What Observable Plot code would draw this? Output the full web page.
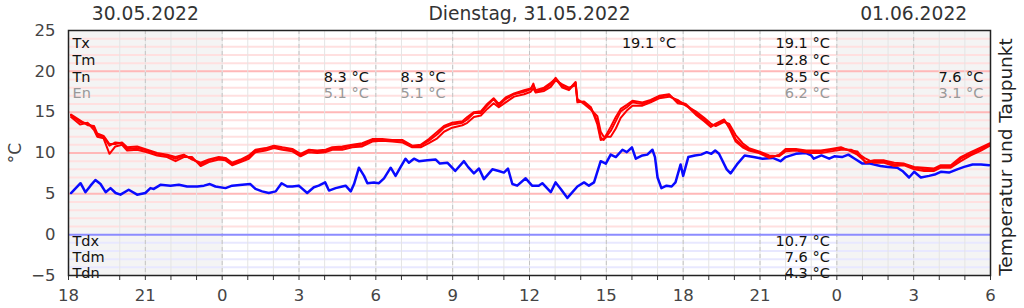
<!DOCTYPE html>
<html><head><meta charset="utf-8">
<script src="https://cdn.jsdelivr.net/npm/d3@7"></script>
<script src="https://cdn.jsdelivr.net/npm/@observablehq/plot@0.6"></script>
<style>body{margin:0;background:#fff;} svg{display:block;}</style>
</head><body><div id="chart"></div>
<script>
// ---- data (hours counted from 30.05.2022 18:00) ----
const redHours = [
 0.1,0.45,0.75,1.0,1.12,1.37,1.6,1.83,2.09,2.29,
 2.68,3.07,3.46,3.85,4.18,4.5,4.83,5.16,5.48,5.87,
 6.13,6.39,6.72,7.04,7.3,7.7,8.02,8.35,8.74,9.06,
 9.39,9.71,10.04,10.3,10.69,11.08,11.47,11.86,12.25,12.64,
 13.03,13.42,13.75,14.07,14.4,14.66,14.98,15.38,15.57,15.83,
 16.1,16.35,16.6,16.8,17.07,17.4,17.79,18.05,18.15,18.24,
 18.57,18.83,19.02,19.28,19.54,19.8,19.87,20.13,20.4,20.65,
 20.78,20.9,21.17,21.37,21.56,21.8,22.02,22.41,22.73,23.06,
 23.45,23.78,24.1,24.49,24.82,25.08,25.27,25.6,25.79,26.05,
 26.32,26.57,26.96,27.36,27.75,28.0,28.4,28.8,29.0,29.38,
 29.77,30.16,30.55,30.8,31.13,31.46,31.85,32.24,32.63,33.02,
 33.41,33.8,34.06,34.45,34.84,35.23,35.63,35.98];
const tempA = [
 14.6,13.8,13.6,13.1,12.2,12.0,10.9,11.3,11.2,10.5,
 10.6,10.3,9.9,9.7,9.3,9.7,9.3,8.6,9.1,9.4,
 9.3,8.6,9.1,9.5,10.3,10.5,10.8,10.5,10.4,9.7,
 10.3,10.2,10.2,10.6,10.6,10.9,11.0,11.6,11.6,11.5,
 11.5,10.8,10.9,11.5,12.3,13.1,13.5,13.7,14.1,14.9,
 14.9,15.8,16.6,15.8,16.6,17.2,17.5,17.8,18.5,17.5,
 17.8,18.4,19.2,18.2,17.8,18.7,16.4,16.2,15.5,13.9,
 11.9,11.6,12.7,13.9,15.1,15.6,16.2,16.0,16.4,16.9,
 17.1,16.3,16.0,14.9,14.1,13.3,13.5,14.0,13.3,11.7,
 10.9,10.4,10.1,9.5,9.7,10.4,10.4,10.2,10.1,10.2,
 10.4,10.6,10.3,10.2,8.8,9.0,9.0,8.6,8.6,8.2,
 8.0,8.0,8.4,8.3,9.3,9.9,10.5,11.1];
const tempB = [
 14.4,13.5,13.7,12.8,12.0,11.8,9.9,10.8,11.0,10.3,
 10.4,10.1,9.7,9.5,9.0,9.5,9.5,8.4,8.9,9.2,
 9.1,8.5,8.9,9.3,10.1,10.3,10.6,10.4,10.2,9.6,
 10.1,10.0,10.1,10.4,10.4,10.7,10.8,11.4,11.5,11.4,
 11.3,10.7,10.7,11.2,11.8,12.6,13.1,13.4,13.7,14.4,
 14.6,15.4,16.1,15.6,16.2,16.9,17.2,17.5,17.9,17.4,
 17.6,18.1,18.9,18.4,18.0,18.3,16.6,16.0,15.3,14.5,
 12.6,12.0,12.0,13.0,14.3,15.2,15.8,15.8,16.2,16.7,
 16.9,16.5,15.8,15.1,14.3,13.6,13.3,13.8,13.6,12.2,
 11.2,10.6,10.2,9.7,9.6,10.2,10.3,10.1,10.0,10.0,
 10.2,10.4,10.4,10.0,9.3,8.8,8.8,8.4,8.5,8.0,
 7.8,7.8,8.2,8.2,9.0,9.7,10.3,10.9];
const tempC = [
 14.7,14.0,13.4,13.3,12.4,12.1,11.1,11.1,11.3,10.7,
 10.8,10.4,10.0,9.8,9.5,9.8,9.2,8.8,9.2,9.5,
 9.4,8.8,9.2,9.7,10.4,10.6,10.9,10.7,10.5,9.9,
 10.4,10.3,10.4,10.7,10.8,11.0,11.2,11.7,11.7,11.6,
 11.6,10.9,11.0,11.7,12.6,13.3,13.7,13.9,14.4,15.0,
 15.1,16.0,16.7,16.0,16.8,17.3,17.7,17.9,18.3,17.7,
 18.0,18.6,19.1,18.0,17.7,18.6,16.2,16.3,15.6,13.5,
 11.6,11.7,13.2,14.4,15.4,15.9,16.4,16.2,16.5,17.0,
 17.2,16.1,15.9,14.7,13.9,13.2,13.6,14.1,13.1,11.4,
 10.7,10.3,10.0,9.4,9.8,10.5,10.5,10.3,10.3,10.3,
 10.5,10.7,10.2,9.8,8.9,9.1,9.1,8.8,8.7,8.3,
 8.2,8.1,8.5,8.5,9.5,10.1,10.7,11.2];
const dewHours = [
 0.1,0.47,0.66,0.86,1.05,1.25,1.45,1.64,1.84,2.03,
 2.35,2.68,3.0,3.2,3.33,3.59,3.98,4.31,4.63,5.03,
 5.29,5.52,5.74,6.13,6.39,6.78,7.1,7.3,7.56,7.82,
 8.09,8.32,8.54,8.74,8.99,9.32,9.58,9.77,10.02,10.17,
 10.43,10.69,10.82,11.02,11.15,11.34,11.54,11.67,11.93,12.12,
 12.32,12.58,12.77,12.97,13.16,13.29,13.49,13.68,14.01,14.34,
 14.5,14.8,15.1,15.44,15.6,15.83,16.03,16.22,16.55,16.8,
 17.0,17.16,17.33,17.52,17.85,18.1,18.36,18.5,18.83,19.02,
 19.22,19.48,19.87,20.13,20.32,20.52,20.78,20.98,21.17,21.37,
 21.63,21.8,22.0,22.15,22.41,22.6,22.8,22.9,23.0,23.15,
 23.35,23.55,23.7,23.9,24.0,24.2,24.46,24.7,24.92,25.1,
 25.25,25.4,25.7,25.85,26.1,26.4,26.75,27.1,27.5,27.8,
 28.0,28.4,28.8,29.0,29.1,29.4,29.7,29.9,30.2,30.45,
 30.7,31.0,31.3,31.7,32.0,32.36,32.56,32.82,33.02,33.28,
 33.6,33.86,34.06,34.38,34.7,34.97,35.3,35.63,35.95];
const dewTemp = [
 5.1,6.3,5.2,6.0,6.7,6.2,5.2,5.7,5.1,4.9,
 5.5,4.9,5.1,5.7,5.6,6.1,6.0,6.1,5.9,5.9,
 6.0,6.2,5.9,5.7,6.0,6.1,6.2,5.6,5.3,5.1,
 5.3,6.3,5.9,5.9,6.0,5.1,5.8,6.0,6.4,5.4,
 5.7,5.9,6.0,5.3,6.2,8.2,7.2,6.3,6.4,6.3,
 6.9,8.2,7.2,8.3,9.3,8.8,9.3,9.0,9.1,9.2,
 8.7,8.8,7.8,9.0,8.3,7.5,8.1,6.8,8.0,7.8,
 7.6,8.1,6.2,6.0,6.9,6.0,6.0,6.3,5.2,6.4,
 5.6,4.5,5.9,6.4,6.0,6.4,9.0,8.7,9.8,9.5,
 10.4,10.1,10.7,9.3,9.7,9.8,10.4,9.5,7.0,5.7,
 6.0,5.9,6.4,8.6,7.2,9.5,9.7,9.8,10.1,9.9,
 10.3,9.9,8.0,7.5,8.6,9.7,9.5,9.3,9.4,9.0,
 9.5,9.9,10.0,9.7,9.3,9.7,9.3,9.6,9.5,9.8,
 9.3,8.7,8.7,8.4,8.3,8.2,7.8,7.0,7.7,7.0,
 7.2,7.4,7.7,7.6,8.0,8.3,8.6,8.6,8.5];

const dayTitles = ["30.05.2022", "Dienstag, 31.05.2022", "01.06.2022"];
const dayTitleHours = [3, 18, 33];
const otherDayShade = [[0, 6], [30, 36]];

const statNamesTop = ["Tx", "Tm", "Tn", "En"];
const statColHours = [12, 15, 24, 30, 36];
const statTx = [null, null, 19.1, 19.1, null];
const statTm = [null, null, null, 12.8, null];
const statTn = [8.3, 8.3, null, 8.5, 7.6];
const statEn = [5.1, 5.1, null, 6.2, 3.1];
const statNamesBottom = ["Tdx", "Tdm", "Tdn"];
const dewStatColHours = [30];
const statTdx = [10.7];
const statTdm = [7.6];
const statTdn = [4.3];

const yTicks = [-5, 0, 5, 10, 15, 20, 25];
const tempGridMajor = [5, 10, 15, 20];
const tempGridMinor = [1,2,3,4,6,7,8,9,11,12,13,14,16,17,18,19,21,22,23,24];
const dewGrid = [-1, -2, -3, -4];
const zeroLine = [0];

// ---- build ----
const start = Date.UTC(2022, 4, 30, 18);
const toDate = h => new Date(start + h * 3600e3);
const series = (hours, vals, key) => hours.map((h, i) => ({t: toDate(h), v: vals[i], k: key}));
const red = [series(redHours, tempA, "a"), series(redHours, tempB, "b"), series(redHours, tempC, "c")];
const dew = series(dewHours, dewTemp, "d");
const hourTicks = d3.range(0, 37).filter(h => h !== 1).map(toDate);
const labelTicks = d3.range(0, 37, 3).map(toDate);

const fmt = v => v.toFixed(1) + " °C";
const statRows = (cols, vals) => cols.map((h, i) => ({t: toDate(h), v: vals[i]})).filter(d => d.v != null);

const FONT = "DejaVu Sans, Bitstream Vera Sans, sans-serif";
const AF = 14.5;
const rowDy = [7, 24, 41, 57.5];
const topVals = [statTx, statTm, statTn, statEn];
const botVals = [statTdx, statTdm, statTdn];
const botDy = [-40, -23.5, -7.5];

const marks = [
  Plot.rect(otherDayShade, {x1: d => toDate(d[0]), x2: d => toDate(d[1]), fill: "#f4f4f4"}),
  Plot.ruleY(tempGridMinor, {stroke: "#ffe0e0", strokeWidth: 2}),
  Plot.ruleY(tempGridMajor, {stroke: "#ffb8b8", strokeWidth: 2}),
  Plot.ruleY(dewGrid, {stroke: "#e8e8ff", strokeWidth: 2}),
  Plot.ruleX(hourTicks, {stroke: "#e4e4e4", strokeWidth: 1}),
  Plot.ruleX(labelTicks, {stroke: "#c4c4c4", strokeWidth: 1, strokeDasharray: "4,3"}),
  Plot.ruleY(zeroLine, {stroke: "#8c8cff", strokeWidth: 2}),
  Plot.line(dew, {x: "t", y: "v", stroke: "#0a0aff", strokeWidth: 2.5}),
  ...red.map(s => Plot.line(s, {x: "t", y: "v", stroke: "#ff0000", strokeWidth: 2})),
  Plot.axisY({ticks: yTicks, tickSize: 0, tickPadding: 13, fontSize: 16.5, fill: "#444", label: null}),
  Plot.axisX({ticks: hourTicks, tickSize: 5, tickFormat: () => "", stroke: "#333", label: null}),
  Plot.axisX({ticks: labelTicks, tickSize: 0, tickPadding: 14, tickFormat: d => String(d.getUTCHours()), fontSize: 16.5, fill: "#444", label: null}),
  Plot.text(dayTitleHours.map((h, i) => ({t: toDate(h), s: dayTitles[i]})),
    {x: "t", text: "s", frameAnchor: "top", dy: -16, fontSize: 18.7, fill: "#333", lineAnchor: "middle"}),
  Plot.text(["°C"], {text: d => d, frameAnchor: "left", dx: -53, rotate: -90, textAnchor: "middle", fontSize: 17, fill: "#444"}),
  Plot.text(["Temperatur und Taupunkt"], {text: d => d, frameAnchor: "right", dx: 16, dy: 4, rotate: -90, textAnchor: "middle", fontSize: 18.5, fill: "#222"}),
  ...statNamesTop.map((n, i) => Plot.text([n], {text: d => d, frameAnchor: "top-left", dx: 4, dy: rowDy[i], lineAnchor: "top", textAnchor: "start", fontSize: AF, fill: i === 3 ? "#999" : "#111"})),
  ...topVals.map((vals, i) => Plot.text(statRows(statColHours, vals), {x: "t", text: d => fmt(d.v), frameAnchor: "top", dx: -7, dy: rowDy[i], lineAnchor: "top", textAnchor: "end", fontSize: AF, fill: i === 3 ? "#999" : "#111"})),
  ...statNamesBottom.map((n, i) => Plot.text([n], {text: d => d, frameAnchor: "bottom-left", dx: 4, dy: botDy[i], lineAnchor: "top", textAnchor: "start", fontSize: AF, fill: "#111"})),
  ...botVals.map((vals, i) => Plot.text(statRows(dewStatColHours, vals), {x: "t", text: d => fmt(d.v), frameAnchor: "bottom", dx: -7, dy: botDy[i], lineAnchor: "top", textAnchor: "end", fontSize: AF, fill: "#111"})),
  Plot.frame({stroke: "#222", strokeWidth: 1.5})
];

const chart = Plot.plot({
  width: 1024, height: 308,
  marginLeft: 68, marginRight: 34, marginTop: 30, marginBottom: 33,
  style: {fontFamily: FONT, fontSize: "16px", background: "#fff", color: "#444", overflow: "visible"},
  x: {type: "utc", domain: [toDate(0), toDate(36)]},
  y: {domain: [-5, 25]},
  marks
});
document.getElementById("chart").appendChild(chart);
</script></body></html>
